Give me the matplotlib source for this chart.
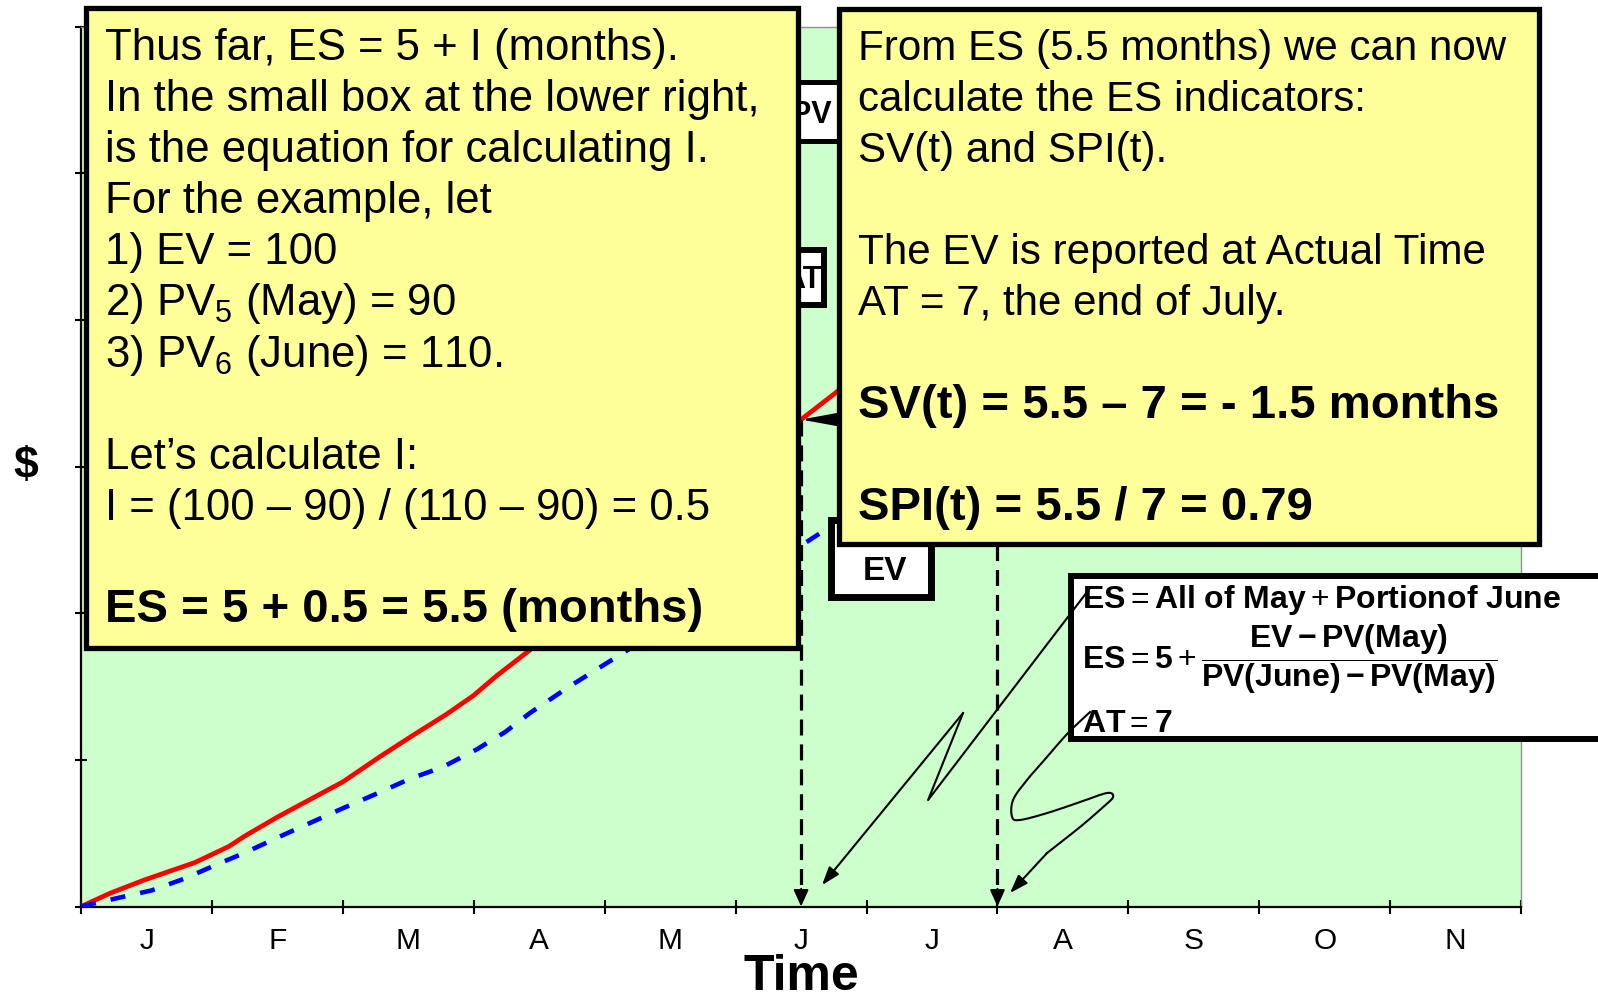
import numpy as np
import matplotlib
matplotlib.use("Agg")
import matplotlib.pyplot as plt
from matplotlib.patches import Rectangle

plt.rcParams['font.family'] = ['Liberation Sans', 'DejaVu Sans']
plt.rcParams['mathtext.fontset'] = 'custom'
plt.rcParams['mathtext.rm'] = 'Liberation Sans'
plt.rcParams['mathtext.it'] = 'Liberation Sans:italic'
plt.rcParams['mathtext.bf'] = 'Liberation Sans:bold'

# ---------------- data ----------------
months = ['J', 'F', 'M', 'A', 'M', 'J', 'J', 'A', 'S', 'O', 'N']

pv_months = [0, 0.22, 0.48, 0.74, 0.87, 1.13, 1.25, 1.5, 1.75, 2.0, 2.28, 2.54,
             2.79, 3.0, 3.17, 3.43, 4.0, 4.5, 5.0, 5.5, 5.76, 6.0, 7.0, 8.0, 9.0]
pv_values = [0, 0.09, 0.18, 0.26, 0.30, 0.41, 0.48, 0.61, 0.73, 0.85, 1.02, 1.17,
             1.31, 1.44, 1.57, 1.75, 2.17, 2.54, 2.93, 3.32, 3.50, 3.68, 4.40, 5.10, 5.80]

ev_months = [0, 0.29, 0.54, 0.79, 1.02, 1.26, 1.5, 1.75, 2.0, 2.26, 2.51, 2.76,
             3.02, 3.24, 3.43, 3.73, 4.07, 4.5, 5.0, 5.55, 5.74, 6.0, 6.5, 7.0]
ev_values = [0, 0.06, 0.11, 0.19, 0.28, 0.37, 0.47, 0.57, 0.67, 0.77, 0.87, 0.95,
             1.07, 1.19, 1.32, 1.50, 1.69, 1.93, 2.20, 2.49, 2.60, 2.74, 3.03, 3.32]

es_month = 5.5
at_month = 7.0

# annotation pointer paths (data coords)
ptr1_x = [7.707, 6.470, 6.737, 5.660]
ptr1_y = [2.171, 0.726, 1.319, 0.146]
ptr2_x = [7.707, 7.539, 7.379, 7.226, 7.119, 7.112, 7.173, 7.379, 7.631, 7.837, 7.883,
          7.807, 7.631, 7.379, 7.096]
ptr2_y = [1.326, 1.183, 1.020, 0.863, 0.726, 0.610, 0.590, 0.637, 0.712, 0.774, 0.746,
          0.678, 0.542, 0.365, 0.092]

left_lines = [
    ("Thus far, ES = 5 + I (months).", 'normal'),
    ("In the small box at the lower right,", 'normal'),
    ("is the equation for calculating I.", 'normal'),
    ("For the example, let", 'normal'),
    ("1) EV = 100", 'normal'),
    (r"2) $\mathrm{PV}_\mathrm{5}$ (May) = 90", 'normal'),
    (r"3) $\mathrm{PV}_\mathrm{6}$ (June) = 110.", 'normal'),
    ("", 'normal'),
    ("Let\u2019s calculate I:", 'normal'),
    ("I = (100 \u2013 90) / (110 \u2013 90) = 0.5", 'normal'),
    ("", 'normal'),
    ("ES = 5 + 0.5 = 5.5 (months)", 'bold'),
]
right_lines = [
    ("From ES (5.5 months) we can now", 'normal'),
    ("calculate the ES indicators:", 'normal'),
    ("SV(t) and SPI(t).", 'normal'),
    ("", 'normal'),
    ("The EV is reported at Actual Time", 'normal'),
    ("AT = 7, the end of July.", 'normal'),
    ("", 'normal'),
    ("SV(t) = 5.5 \u2013 7 = - 1.5 months", 'bold'),
    ("", 'normal'),
    ("SPI(t) = 5.5 / 7 = 0.79", 'bold'),
]

# ---------------- figure ----------------
W, H = 1598, 1001
fig = plt.figure(figsize=(W / 100, H / 100), dpi=100)


def fx(px):
    return px / W


def fy(py):
    return 1 - py / H


ax = fig.add_axes([fx(81.1), fy(906.5), (1521.1 - 81.1) / W, (906.5 - 26.5) / H])
ax.set_facecolor('#CCFFCC')

ax.plot(pv_months, pv_values, color='#FF0000', lw=3.4, zorder=3,
        solid_joinstyle='round')
ax.plot(ev_months, ev_values, color='#0000FF', lw=3.3, ls=(0, (3.3, 3.3)), zorder=3)

pv_at_es = np.interp(es_month, pv_months, pv_values)
ev_at_at = np.interp(at_month, ev_months, ev_values)

for xm, ytop in ((es_month, pv_at_es), (at_month, ev_at_at)):
    ax.plot([xm, xm], [ytop, 0.09], color='black', lw=2.3, ls=(0, (5, 2.8)), zorder=3)
    ax.annotate('', xy=(xm, 0), xytext=(xm, 0.12),
                arrowprops=dict(arrowstyle='-|>,head_length=1.0,head_width=0.45',
                                mutation_scale=10, color='black', lw=1.5,
                                shrinkA=0, shrinkB=0),
                zorder=3, annotation_clip=False)

ax.annotate('', xy=(es_month, pv_at_es), xytext=(at_month, ev_at_at),
            arrowprops=dict(arrowstyle='-|>,head_length=3.0,head_width=0.55',
                            mutation_scale=10, color='black', lw=1.5,
                            shrinkA=0, shrinkB=0),
            zorder=3.2, annotation_clip=False)

ax.set_xlim(0, 11)
ax.set_ylim(0, 6)
ax.set_xticks(np.arange(12))
ax.set_xticklabels([])
ax.set_xticks(np.arange(11) + 0.5, minor=True)
ax.set_xticklabels(months, minor=True, fontsize=21.5)
ax.tick_params(axis='x', which='major', direction='inout', length=10, width=1.5,
               color='black')
ax.tick_params(axis='x', which='minor', length=0, pad=15)
ax.set_yticks(np.arange(7))
ax.set_yticklabels([])
ax.tick_params(axis='y', which='major', direction='inout', length=8, width=1.5)

for s in ('left', 'bottom'):
    ax.spines[s].set_color('black')
    ax.spines[s].set_linewidth(1.6)
for s in ('top', 'right'):
    ax.spines[s].set_color('#909090')
    ax.spines[s].set_linewidth(1.0)


def box(x0, y0, x1, y1, fc, lw, z):
    r = Rectangle((fx(x0), fy(y1)), (x1 - x0) / W, (y1 - y0) / H,
                  transform=fig.transFigure, facecolor=fc, edgecolor='black',
                  lw=lw, zorder=z, clip_on=False, joinstyle='miter')
    ax.add_patch(r)


def ftext(x, y, s, z=6, **kw):
    ax.text(fx(x), fy(y), s, transform=fig.transFigure, clip_on=False, zorder=z, **kw)


# small label boxes
box(740, 82.5, 860, 140.5, 'white', 3.6, 4)
ftext(832, 123, 'PV', z=4.1, ha='right', va='baseline', fontsize=22, fontweight='bold')
box(740, 250, 824, 305, 'white', 4.3, 4)
ftext(822, 288, 'AT', z=4.1, ha='right', va='baseline', fontsize=22, fontweight='bold')
box(830.5, 520, 931.5, 596.5, 'white', 5, 4.2)
ftext(885, 580, 'EV', z=4.3, ha='center', va='baseline', fontsize=24, fontweight='bold')

# big yellow boxes
box(85.5, 7.5, 797.5, 647.5, '#FFFF99', 3.8, 5)
box(838.5, 8.5, 1538.5, 543.5, '#FFFF99', 3.8, 5)

line_h = 51.1
for i, (s, w) in enumerate(left_lines):
    if s:
        ftext(105, 60 + line_h * i, s, ha='left', va='baseline',
              fontsize=34 if w == 'bold' else 31.5, fontweight=w)
for i, (s, w) in enumerate(right_lines):
    if s:
        ftext(858, 60 + line_h * i, s, ha='left', va='baseline',
              fontsize=34 if w == 'bold' else 30.3, fontweight=w)

# formula box
box(1071, 576, 1602, 739, 'white', 4.3, 5)
ftext(1082, 608, r"$\mathbf{ES} = \mathbf{All\ of\ May} + \mathbf{Portionof\ June}$",
      ha='left', va='baseline', fontsize=23)
ftext(1082, 668, r"$\mathbf{ES} = \mathbf{5} + \dfrac{\mathbf{EV - PV(May)}}"
      r"{\mathbf{PV(June) - PV(May)}}$",
      ha='left', va='baseline', fontsize=23)
ftext(1082, 732, r"$\mathbf{AT} = \mathbf{7}$", ha='left', va='baseline', fontsize=23)


# pointer arrows (drawn over the boxes)
def smooth(xs, ys, n=14):
    P = np.column_stack([xs, ys])
    pts = np.vstack([P[0], P, P[-1]])
    out = []
    t = np.linspace(0, 1, n, endpoint=False)[:, None]
    for i in range(1, len(pts) - 2):
        p0, p1, p2, p3 = pts[i - 1], pts[i], pts[i + 1], pts[i + 2]
        out.append(0.5 * (2 * p1 + (-p0 + p2) * t + (2 * p0 - 5 * p1 + 4 * p2 - p3) * t ** 2
                          + (-p0 + 3 * p1 - 3 * p2 + p3) * t ** 3))
    out.append(P[-1:])
    return np.vstack(out)


arrow_kw = dict(arrowstyle='-|>,head_length=1.1,head_width=0.38', mutation_scale=10,
                color='black', lw=1.5, shrinkA=0, shrinkB=0)

ax.plot(ptr1_x[:-1], ptr1_y[:-1], color='black', lw=1.5, zorder=7, clip_on=False,
        solid_joinstyle='round')
ax.annotate('', xy=(ptr1_x[-1], ptr1_y[-1]), xytext=(ptr1_x[-2], ptr1_y[-2]),
            arrowprops=arrow_kw, zorder=7, annotation_clip=False)

sm = smooth(ptr2_x[:-1], ptr2_y[:-1])
ax.plot(sm[:, 0], sm[:, 1], color='black', lw=1.5, zorder=7, clip_on=False)
ax.annotate('', xy=(ptr2_x[-1], ptr2_y[-1]), xytext=(ptr2_x[-2], ptr2_y[-2]),
            arrowprops=arrow_kw, zorder=7, annotation_clip=False)

# axis titles
fig.text(fx(26), fy(478), r'\$', ha='center', va='baseline', fontsize=32,
         fontweight='bold')
fig.text(fx(801), fy(990), 'Time', ha='center', va='baseline', fontsize=36,
         fontweight='bold')

fig.savefig('out.png', dpi=100)
